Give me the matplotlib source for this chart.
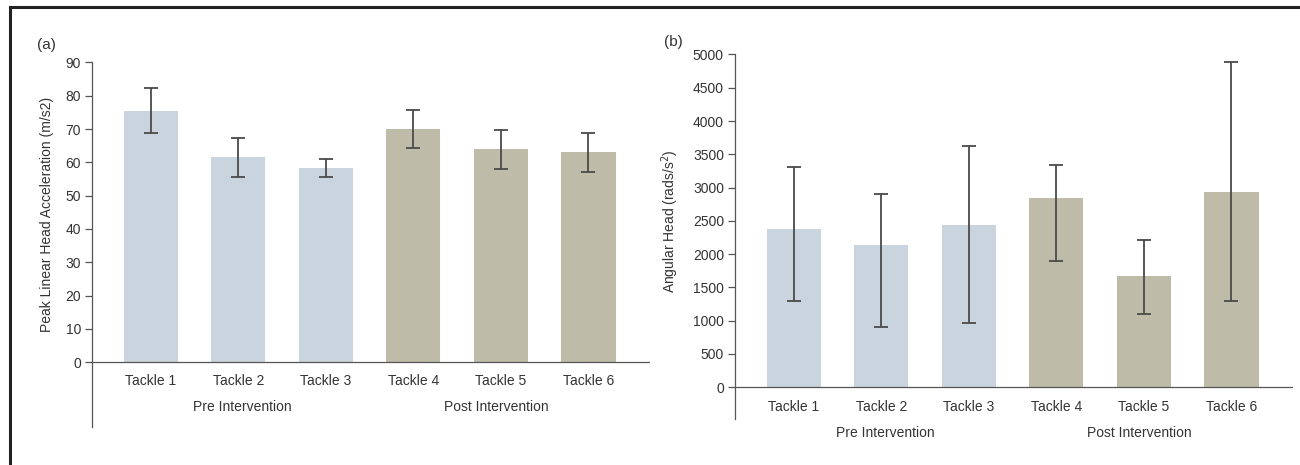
import matplotlib
matplotlib.use("Agg")
import matplotlib.pyplot as plt
from matplotlib.lines import Line2D

plt.rcParams['font.family'] = ['Liberation Sans', 'DejaVu Sans']

tackles = ['Tackle 1', 'Tackle 2', 'Tackle 3', 'Tackle 4', 'Tackle 5', 'Tackle 6']
groups = ['Pre Intervention', 'Post Intervention']
group_of_tackle = [0, 0, 0, 1, 1, 1]

# (a) peak linear head acceleration, mean and SD (m/s2)
linear_mean = [75.5, 61.5, 58.3, 70.0, 63.9, 63.0]
linear_sd = [6.7, 5.8, 2.6, 5.7, 5.75, 5.75]

# (b) angular head acceleration (rads/s2), mean with lower / upper error
angular_mean = [2370, 2140, 2430, 2850, 1670, 2940]
angular_err_low = [1075, 1235, 1460, 955, 575, 1645]
angular_err_high = [945, 770, 1200, 485, 545, 1940]

pre_color = '#c9d4de'
post_color = '#bebca8'
err_color = '#4a4a4a'
axis_color = '#555555'
text_color = '#333333'

fig = plt.figure(figsize=(13, 4.65), dpi=100)

# outer frame of the figure (top and left rules only)
fig.add_artist(Line2D([0.0077, 1.0], [0.985, 0.985], transform=fig.transFigure,
                      color='#222222', linewidth=2.2))
fig.add_artist(Line2D([0.0077, 0.0077], [0.0, 0.985], transform=fig.transFigure,
                      color='#222222', linewidth=2.2))

ax_a = fig.add_axes([0.0708, 0.0817, 0.429, 0.7839])
ax_b = fig.add_axes([0.5654, 0.0989, 0.429, 0.7839])

bar_colors = [pre_color if g == 0 else post_color for g in group_of_tackle]
x = list(range(len(tackles)))


def style_axis(ax, ymin, ymax, step):
    ax.set_xlim(-0.67, 5.70)
    ax.set_ylim(ymin, ymax)
    ax.set_yticks(list(range(0, ymax + 1, step)))
    for side in ('top', 'right', 'bottom'):
        ax.spines[side].set_visible(False)
    ax.spines['left'].set_color(axis_color)
    ax.spines['left'].set_linewidth(0.9)
    ax.axhline(0, color=axis_color, linewidth=0.9, zorder=3)
    ax.set_xticks([])
    ax.tick_params(axis='y', direction='out', length=5, width=0.9,
                   color=axis_color, labelsize=10, labelcolor=text_color, pad=3)


# (a) linear acceleration
ax_a.bar(x, linear_mean, width=0.62, color=bar_colors, zorder=2)
ax_a.errorbar(x, linear_mean, yerr=linear_sd, fmt='none', ecolor=err_color,
              elinewidth=1.3, capsize=5, capthick=1.3, zorder=4)
style_axis(ax_a, -19.5, 90, 10)
for i, name in enumerate(tackles):
    ax_a.text(i, -5.7, name, ha='center', va='center', fontsize=10, color=text_color)
ax_a.text(1.05, -13.6, groups[0], ha='center', va='center', fontsize=10, color=text_color)
ax_a.text(3.95, -13.6, groups[1], ha='center', va='center', fontsize=10, color=text_color)
ax_a.set_ylabel('Peak Linear Head Acceleration (m/s2)', fontsize=10, color=text_color)
ax_a.yaxis.set_label_coords(-0.068, 0.584)
fig.text(0.036, 0.903, '(a)', ha='center', va='center', fontsize=11, color=text_color)

# (b) angular acceleration
ax_b.bar(x, angular_mean, width=0.62, color=bar_colors, zorder=2)
ax_b.errorbar(x, angular_mean, yerr=[angular_err_low, angular_err_high], fmt='none',
              ecolor=err_color, elinewidth=1.3, capsize=5, capthick=1.3, zorder=4)
style_axis(ax_b, -480, 5000, 500)
for i, name in enumerate(tackles):
    ax_b.text(i, -300, name, ha='center', va='center', fontsize=10, color=text_color)
ax_b.text(1.05, -695, groups[0], ha='center', va='center', fontsize=10, color=text_color)
ax_b.text(3.95, -695, groups[1], ha='center', va='center', fontsize=10, color=text_color)
ax_b.set_ylabel('Angular Head (rads/s$^2$)', fontsize=10, color=text_color)
ax_b.yaxis.set_label_coords(-0.097, 0.543)
fig.text(0.518, 0.91, '(b)', ha='center', va='center', fontsize=11, color=text_color)

fig.savefig('out.png', dpi=100)
